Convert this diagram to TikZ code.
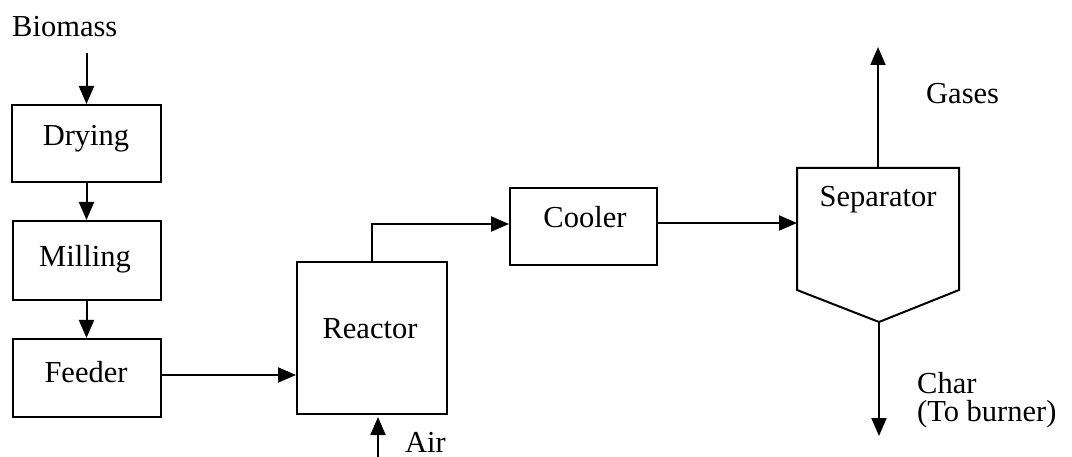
\documentclass[tikz,border=0pt]{standalone}
\usepackage{fontspec}
\setmainfont{Liberation Serif}
\usetikzlibrary{arrows.meta}
\begin{document}
\begin{tikzpicture}[x=1pt,y=-1pt,
  box/.style={draw,line width=2pt,minimum width=#1,inner sep=0pt},
  lbl/.style={inner sep=0pt,font=\fontsize{30.5}{34}\selectfont},
  flow/.style={line width=2pt,-{Triangle[length=18pt,width=15pt]}}]
\useasboundingbox (0,0) rectangle (1072,457);
% boxes
\node[box=149pt,minimum height=77pt] (drying) at (86.5,143.5) {};
\node[box=148pt,minimum height=79pt] (milling) at (86.5,260.5) {};
\node[box=148pt,minimum height=78pt] (feeder) at (86.5,378) {};
\node[box=150pt,minimum height=152pt] (reactor) at (372,338) {};
\node[box=147pt,minimum height=77pt] (cooler) at (583.5,226.5) {};
\draw[line width=2pt,line join=miter] (797,168) -- (959,168) -- (959,290) -- (879,322) -- (797,290) -- cycle;
\coordinate (sepin) at (797,223);
\coordinate (septop) at (878,168);
\coordinate (sepbot) at (879,322);
% labels
\node[lbl,anchor=base] (tdry) at (86,146) {Drying};
\node[lbl,anchor=base] (tmill) at (85,267) {Milling};
\node[lbl,anchor=base] (tfeed) at (86,382) {Feeder};
\node[lbl,anchor=base] (treac) at (370,339) {Reactor};
\node[lbl,anchor=base] (tcool) at (585,228) {Cooler};
\node[lbl,anchor=base] (tsep) at (878,207) {Separator};
\node[lbl,anchor=base west] (biomass) at (12,37) {Biomass};
\node[lbl,anchor=base west] (gases) at (926,104) {Gases};
\node[lbl,anchor=base west] (char) at (917,393) {Char};
\node[lbl,anchor=base west] (burner) at (917,421) {(To burner)};
\node[lbl,anchor=base west] (air) at (405,452) {Air};
% connectors
\coordinate (bin) at (86.5,53);
\coordinate (gout) at (878,47);
\coordinate (cout) at (879,436);
\coordinate (ain) at (378,460);
\draw[flow] (bin) -- (drying.north);
\draw[flow] (drying.south) -- (milling.north);
\draw[flow] (milling.south) -- (feeder.north);
\draw[flow] ([yshift=3pt]feeder.east) -- ([yshift=3pt]feeder.east -| reactor.west);
\draw[flow] (reactor.north) |- ([yshift=2.5pt]cooler.west);
\draw[flow] ([yshift=3.5pt]cooler.east) -- (sepin);
\draw[flow] (septop) -- (gout);
\draw[flow] (sepbot) -- (cout);
\draw[flow,shorten >=2pt] (ain) -- (ain |- reactor.south);
\end{tikzpicture}
\end{document}
